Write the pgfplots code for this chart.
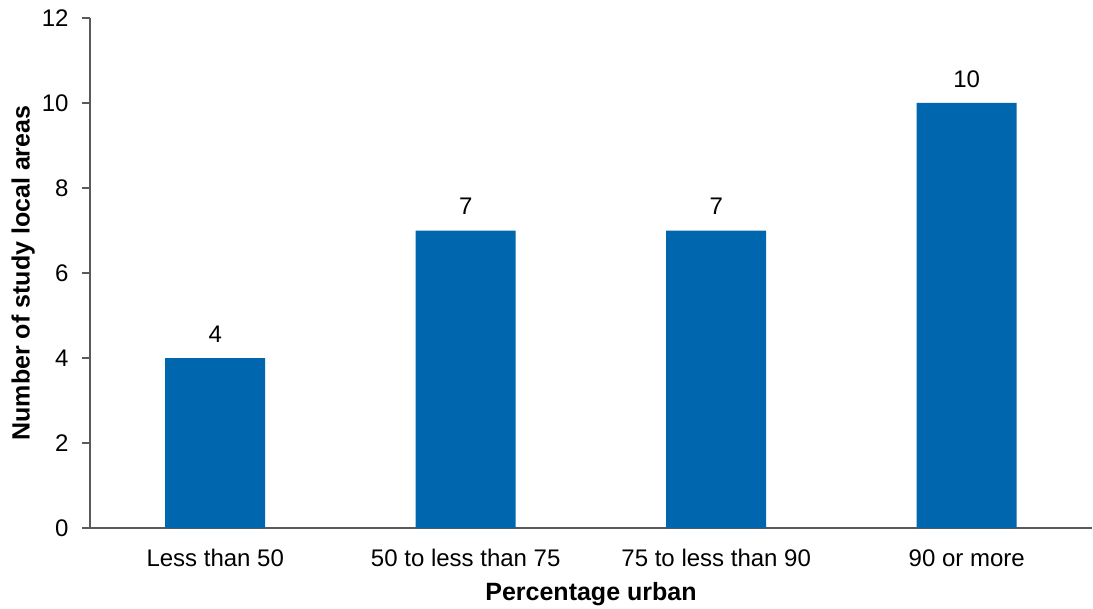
\documentclass[border=0pt]{standalone}
\usepackage{pgfplots}
\pgfplotsset{compat=1.18}
\usepackage{fontspec}
\setmainfont{Liberation Sans}
\definecolor{barblue}{HTML}{0066AD}
\definecolor{axgray}{HTML}{5A5A5A}
\begin{document}
\begin{tikzpicture}
\begin{axis}[
  scale only axis,
  width=1002pt, height=510pt,
  xmin=-0.5, xmax=3.5,
  ymin=0, ymax=12,
  ytick={0,2,...,12},
  xtick={0,1,2,3},
  xticklabels={Less than 50, 50 to less than 75, 75 to less than 90, 90 or more},
  major x tick style={draw=none},
  axis x line*=bottom,
  axis y line*=left,
  axis line style={axgray, line width=1.2pt},
  y tick style={axgray, line width=1.2pt},
  tick align=outside,
  major tick length=8pt,
  /pgf/number format/assume math mode=true,
  tick label style={font=\fontsize{24}{28}\selectfont, text=black},
  xticklabel style={yshift=-10pt},
  yticklabel style={xshift=-10pt},
  xlabel={\textbf{Percentage urban}},
  ylabel={\textbf{Number of study local areas}},
  label style={font=\fontsize{25}{29}\selectfont},
  xlabel style={yshift=-8pt},
  ylabel style={yshift=0pt},
  ybar, bar width=100pt,
  nodes near coords,
  nodes near coords style={font=\fontsize{24}{28}\selectfont, text=black, yshift=12pt},
  clip=false,
]
\addplot[fill=barblue, draw=none] coordinates {(0,4) (1,7) (2,7) (3,10)};
\end{axis}
\path[use as bounding box] (current axis.south west) ++(-90pt,-80pt) rectangle ++(1093pt,608pt);
\end{tikzpicture}
\end{document}
